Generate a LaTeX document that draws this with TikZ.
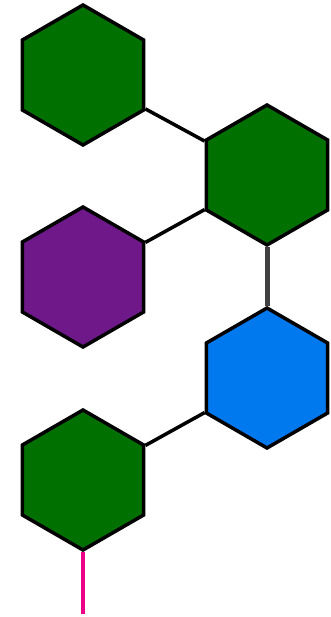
\documentclass[tikz,border=0pt]{standalone}
\usepackage{tikz}
\usetikzlibrary{shapes,positioning}
\definecolor{hexgreen}{RGB}{0,112,0}
\definecolor{hexpurple}{RGB}{110,24,138}
\definecolor{hexblue}{RGB}{0,120,238}
\definecolor{stempink}{RGB}{236,0,136}
\tikzstyle{hex} = [draw, regular polygon, regular polygon sides=6, shape border rotate=30, minimum size=140pt, inner sep=0pt, line width=3.5pt]
\tikzstyle{link} = [draw, line width=3.5pt]

\begin{document}
\begin{tikzpicture}[x=1pt, y=-1pt]
    \useasboundingbox (0,0) rectangle (331,617);
    \node [hex, fill=hexgreen] (g1) at (83,75) {};
    \node [hex, fill=hexgreen] (g2) at (267,175) {};
    \node [hex, fill=hexpurple] (p1) at (83,277) {};
    \node [hex, fill=hexblue] (b1) at (267,378) {};
    \node [hex, fill=hexgreen] (g3) at (83,480) {};
    \coordinate (tail) at (83,614);

    \path [link] (g1) -- (g2);
    \path [link] (p1) -- (g2);
    \path [link, line width=5pt, draw=black!75] (g2) -- (b1);
    \path [link] (g3) -- (b1);
    \path [link, draw=stempink, line width=4.5pt] (g3) -- (tail);
\end{tikzpicture}
\end{document}
